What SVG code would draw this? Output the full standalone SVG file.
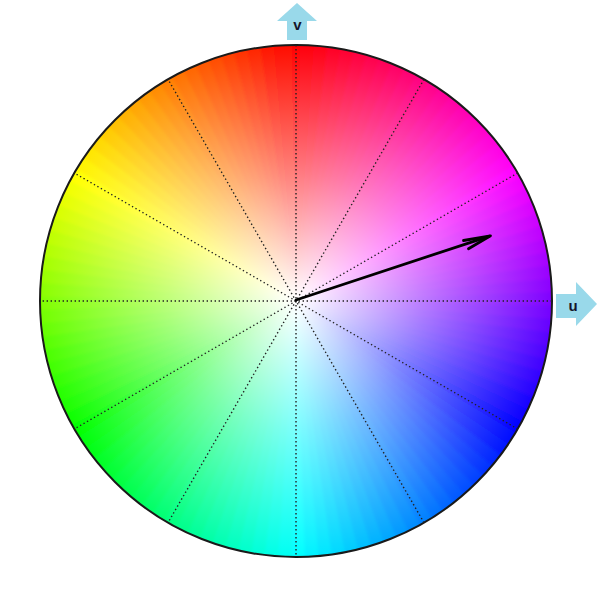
<svg xmlns="http://www.w3.org/2000/svg" xmlns:xlink="http://www.w3.org/1999/xlink" width="602" height="606" viewBox="0 0 602 606">
<style>
.grid{stroke:#222;stroke-width:1.4;stroke-dasharray:1.4 2.6;fill:none}
.axis{fill:#99d9ea}
.lbl{font-family:"Liberation Sans",Arial,sans-serif;font-weight:bold;font-size:15px;fill:#15152a;text-anchor:middle}
.vec{stroke:#000;stroke-width:2.8;fill:none;stroke-linecap:round;stroke-linejoin:round}
</style>
<defs>
<clipPath id="disc"><circle cx="296" cy="301" r="256"/></clipPath>
<filter id="soft" x="-10%" y="-10%" width="120%" height="120%"><feGaussianBlur stdDeviation="1.6"/></filter>
<path id="w" d="M296,301 L286.4,26.2 L305.6,26.2 Z"/>
<radialGradient id="fade" gradientUnits="userSpaceOnUse" cx="296" cy="301" r="256">
<stop offset="0" stop-color="#fff" stop-opacity="1"/>
<stop offset="0.5" stop-color="#fff" stop-opacity="0.48"/>
<stop offset="1" stop-color="#fff" stop-opacity="0"/>
</radialGradient>
</defs>
<rect width="602" height="606" fill="#fff"/>
<g id="color-wheel">
<g clip-path="url(#disc)">
<g filter="url(#soft)">
<use href="#w" transform="rotate(0 296 301)" fill="hsl(0,100%,50%)"/>
<use href="#w" transform="rotate(3 296 301)" fill="hsl(357,100%,50%)"/>
<use href="#w" transform="rotate(6 296 301)" fill="hsl(354,100%,50%)"/>
<use href="#w" transform="rotate(9 296 301)" fill="hsl(351,100%,50%)"/>
<use href="#w" transform="rotate(12 296 301)" fill="hsl(348,100%,50%)"/>
<use href="#w" transform="rotate(15 296 301)" fill="hsl(345,100%,50%)"/>
<use href="#w" transform="rotate(18 296 301)" fill="hsl(342,100%,50%)"/>
<use href="#w" transform="rotate(21 296 301)" fill="hsl(339,100%,50%)"/>
<use href="#w" transform="rotate(24 296 301)" fill="hsl(336,100%,50%)"/>
<use href="#w" transform="rotate(27 296 301)" fill="hsl(333,100%,50%)"/>
<use href="#w" transform="rotate(30 296 301)" fill="hsl(330,100%,50%)"/>
<use href="#w" transform="rotate(33 296 301)" fill="hsl(327,100%,50%)"/>
<use href="#w" transform="rotate(36 296 301)" fill="hsl(324,100%,50%)"/>
<use href="#w" transform="rotate(39 296 301)" fill="hsl(321,100%,50%)"/>
<use href="#w" transform="rotate(42 296 301)" fill="hsl(318,100%,50%)"/>
<use href="#w" transform="rotate(45 296 301)" fill="hsl(315,100%,50%)"/>
<use href="#w" transform="rotate(48 296 301)" fill="hsl(312,100%,50%)"/>
<use href="#w" transform="rotate(51 296 301)" fill="hsl(309,100%,50%)"/>
<use href="#w" transform="rotate(54 296 301)" fill="hsl(306,100%,50%)"/>
<use href="#w" transform="rotate(57 296 301)" fill="hsl(303,100%,50%)"/>
<use href="#w" transform="rotate(60 296 301)" fill="hsl(300,100%,50%)"/>
<use href="#w" transform="rotate(63 296 301)" fill="hsl(297,100%,50%)"/>
<use href="#w" transform="rotate(66 296 301)" fill="hsl(294,100%,50%)"/>
<use href="#w" transform="rotate(69 296 301)" fill="hsl(291,100%,50%)"/>
<use href="#w" transform="rotate(72 296 301)" fill="hsl(288,100%,50%)"/>
<use href="#w" transform="rotate(75 296 301)" fill="hsl(285,100%,50%)"/>
<use href="#w" transform="rotate(78 296 301)" fill="hsl(282,100%,50%)"/>
<use href="#w" transform="rotate(81 296 301)" fill="hsl(279,100%,50%)"/>
<use href="#w" transform="rotate(84 296 301)" fill="hsl(276,100%,50%)"/>
<use href="#w" transform="rotate(87 296 301)" fill="hsl(273,100%,50%)"/>
<use href="#w" transform="rotate(90 296 301)" fill="hsl(270,100%,50%)"/>
<use href="#w" transform="rotate(93 296 301)" fill="hsl(267,100%,50%)"/>
<use href="#w" transform="rotate(96 296 301)" fill="hsl(264,100%,50%)"/>
<use href="#w" transform="rotate(99 296 301)" fill="hsl(261,100%,50%)"/>
<use href="#w" transform="rotate(102 296 301)" fill="hsl(258,100%,50%)"/>
<use href="#w" transform="rotate(105 296 301)" fill="hsl(255,100%,50%)"/>
<use href="#w" transform="rotate(108 296 301)" fill="hsl(252,100%,50%)"/>
<use href="#w" transform="rotate(111 296 301)" fill="hsl(249,100%,50%)"/>
<use href="#w" transform="rotate(114 296 301)" fill="hsl(246,100%,50%)"/>
<use href="#w" transform="rotate(117 296 301)" fill="hsl(243,100%,50%)"/>
<use href="#w" transform="rotate(120 296 301)" fill="hsl(240,100%,50%)"/>
<use href="#w" transform="rotate(123 296 301)" fill="hsl(237,100%,50%)"/>
<use href="#w" transform="rotate(126 296 301)" fill="hsl(234,100%,50%)"/>
<use href="#w" transform="rotate(129 296 301)" fill="hsl(231,100%,50%)"/>
<use href="#w" transform="rotate(132 296 301)" fill="hsl(228,100%,50%)"/>
<use href="#w" transform="rotate(135 296 301)" fill="hsl(225,100%,50%)"/>
<use href="#w" transform="rotate(138 296 301)" fill="hsl(222,100%,50%)"/>
<use href="#w" transform="rotate(141 296 301)" fill="hsl(219,100%,50%)"/>
<use href="#w" transform="rotate(144 296 301)" fill="hsl(216,100%,50%)"/>
<use href="#w" transform="rotate(147 296 301)" fill="hsl(213,100%,50%)"/>
<use href="#w" transform="rotate(150 296 301)" fill="hsl(210,100%,50%)"/>
<use href="#w" transform="rotate(153 296 301)" fill="hsl(207,100%,50%)"/>
<use href="#w" transform="rotate(156 296 301)" fill="hsl(204,100%,50%)"/>
<use href="#w" transform="rotate(159 296 301)" fill="hsl(201,100%,50%)"/>
<use href="#w" transform="rotate(162 296 301)" fill="hsl(198,100%,50%)"/>
<use href="#w" transform="rotate(165 296 301)" fill="hsl(195,100%,50%)"/>
<use href="#w" transform="rotate(168 296 301)" fill="hsl(192,100%,50%)"/>
<use href="#w" transform="rotate(171 296 301)" fill="hsl(189,100%,50%)"/>
<use href="#w" transform="rotate(174 296 301)" fill="hsl(186,100%,50%)"/>
<use href="#w" transform="rotate(177 296 301)" fill="hsl(183,100%,50%)"/>
<use href="#w" transform="rotate(180 296 301)" fill="hsl(180,100%,50%)"/>
<use href="#w" transform="rotate(183 296 301)" fill="hsl(177,100%,50%)"/>
<use href="#w" transform="rotate(186 296 301)" fill="hsl(174,100%,50%)"/>
<use href="#w" transform="rotate(189 296 301)" fill="hsl(171,100%,50%)"/>
<use href="#w" transform="rotate(192 296 301)" fill="hsl(168,100%,50%)"/>
<use href="#w" transform="rotate(195 296 301)" fill="hsl(165,100%,50%)"/>
<use href="#w" transform="rotate(198 296 301)" fill="hsl(162,100%,50%)"/>
<use href="#w" transform="rotate(201 296 301)" fill="hsl(159,100%,50%)"/>
<use href="#w" transform="rotate(204 296 301)" fill="hsl(156,100%,50%)"/>
<use href="#w" transform="rotate(207 296 301)" fill="hsl(153,100%,50%)"/>
<use href="#w" transform="rotate(210 296 301)" fill="hsl(150,100%,50%)"/>
<use href="#w" transform="rotate(213 296 301)" fill="hsl(147,100%,50%)"/>
<use href="#w" transform="rotate(216 296 301)" fill="hsl(144,100%,50%)"/>
<use href="#w" transform="rotate(219 296 301)" fill="hsl(141,100%,50%)"/>
<use href="#w" transform="rotate(222 296 301)" fill="hsl(138,100%,50%)"/>
<use href="#w" transform="rotate(225 296 301)" fill="hsl(135,100%,50%)"/>
<use href="#w" transform="rotate(228 296 301)" fill="hsl(132,100%,50%)"/>
<use href="#w" transform="rotate(231 296 301)" fill="hsl(129,100%,50%)"/>
<use href="#w" transform="rotate(234 296 301)" fill="hsl(126,100%,50%)"/>
<use href="#w" transform="rotate(237 296 301)" fill="hsl(123,100%,50%)"/>
<use href="#w" transform="rotate(240 296 301)" fill="hsl(120,100%,50%)"/>
<use href="#w" transform="rotate(243 296 301)" fill="hsl(117,100%,50%)"/>
<use href="#w" transform="rotate(246 296 301)" fill="hsl(114,100%,50%)"/>
<use href="#w" transform="rotate(249 296 301)" fill="hsl(111,100%,50%)"/>
<use href="#w" transform="rotate(252 296 301)" fill="hsl(108,100%,50%)"/>
<use href="#w" transform="rotate(255 296 301)" fill="hsl(105,100%,50%)"/>
<use href="#w" transform="rotate(258 296 301)" fill="hsl(102,100%,50%)"/>
<use href="#w" transform="rotate(261 296 301)" fill="hsl(99,100%,50%)"/>
<use href="#w" transform="rotate(264 296 301)" fill="hsl(96,100%,50%)"/>
<use href="#w" transform="rotate(267 296 301)" fill="hsl(93,100%,50%)"/>
<use href="#w" transform="rotate(270 296 301)" fill="hsl(90,100%,50%)"/>
<use href="#w" transform="rotate(273 296 301)" fill="hsl(87,100%,50%)"/>
<use href="#w" transform="rotate(276 296 301)" fill="hsl(84,100%,50%)"/>
<use href="#w" transform="rotate(279 296 301)" fill="hsl(81,100%,50%)"/>
<use href="#w" transform="rotate(282 296 301)" fill="hsl(78,100%,50%)"/>
<use href="#w" transform="rotate(285 296 301)" fill="hsl(75,100%,50%)"/>
<use href="#w" transform="rotate(288 296 301)" fill="hsl(72,100%,50%)"/>
<use href="#w" transform="rotate(291 296 301)" fill="hsl(69,100%,50%)"/>
<use href="#w" transform="rotate(294 296 301)" fill="hsl(66,100%,50%)"/>
<use href="#w" transform="rotate(297 296 301)" fill="hsl(63,100%,50%)"/>
<use href="#w" transform="rotate(300 296 301)" fill="hsl(60,100%,50%)"/>
<use href="#w" transform="rotate(303 296 301)" fill="hsl(57,100%,50%)"/>
<use href="#w" transform="rotate(306 296 301)" fill="hsl(54,100%,50%)"/>
<use href="#w" transform="rotate(309 296 301)" fill="hsl(51,100%,50%)"/>
<use href="#w" transform="rotate(312 296 301)" fill="hsl(48,100%,50%)"/>
<use href="#w" transform="rotate(315 296 301)" fill="hsl(45,100%,50%)"/>
<use href="#w" transform="rotate(318 296 301)" fill="hsl(42,100%,50%)"/>
<use href="#w" transform="rotate(321 296 301)" fill="hsl(39,100%,50%)"/>
<use href="#w" transform="rotate(324 296 301)" fill="hsl(36,100%,50%)"/>
<use href="#w" transform="rotate(327 296 301)" fill="hsl(33,100%,50%)"/>
<use href="#w" transform="rotate(330 296 301)" fill="hsl(30,100%,50%)"/>
<use href="#w" transform="rotate(333 296 301)" fill="hsl(27,100%,50%)"/>
<use href="#w" transform="rotate(336 296 301)" fill="hsl(24,100%,50%)"/>
<use href="#w" transform="rotate(339 296 301)" fill="hsl(21,100%,50%)"/>
<use href="#w" transform="rotate(342 296 301)" fill="hsl(18,100%,50%)"/>
<use href="#w" transform="rotate(345 296 301)" fill="hsl(15,100%,50%)"/>
<use href="#w" transform="rotate(348 296 301)" fill="hsl(12,100%,50%)"/>
<use href="#w" transform="rotate(351 296 301)" fill="hsl(9,100%,50%)"/>
<use href="#w" transform="rotate(354 296 301)" fill="hsl(6,100%,50%)"/>
<use href="#w" transform="rotate(357 296 301)" fill="hsl(3,100%,50%)"/>
</g>
<circle cx="296" cy="301" r="256" fill="url(#fade)"/>
</g>
<circle cx="296" cy="301" r="256" fill="none" stroke="#1a1a1a" stroke-width="2"/>
</g>
<g id="grid-lines">
<line class="grid" x1="296" y1="45" x2="296" y2="557"/>
<line class="grid" x1="424" y1="79.3" x2="168" y2="522.7"/>
<line class="grid" x1="517.7" y1="173" x2="74.3" y2="429"/>
<line class="grid" x1="552" y1="301" x2="40" y2="301"/>
<line class="grid" x1="517.7" y1="429" x2="74.3" y2="173"/>
<line class="grid" x1="424" y1="522.7" x2="168" y2="79.3"/>
</g>
<g id="v-axis">
<polygon class="axis" points="297,3 317,21 307,21 307,40 287,40 287,21 277,21"/>
<text class="lbl" x="297.5" y="30">v</text>
</g>
<g id="u-axis">
<polygon class="axis" points="556,294 576,294 576,282 597,304 576,326 576,318 556,318"/>
<text class="lbl" x="573" y="311">u</text>
</g>
<g id="connectors">
<path class="vec" d="M296,300 L489,236.3"/>
<path class="vec" stroke-width="3.4" d="M463.5,240.5 L490.5,235.8 L468.5,248.8"/>
</g>
</svg>
